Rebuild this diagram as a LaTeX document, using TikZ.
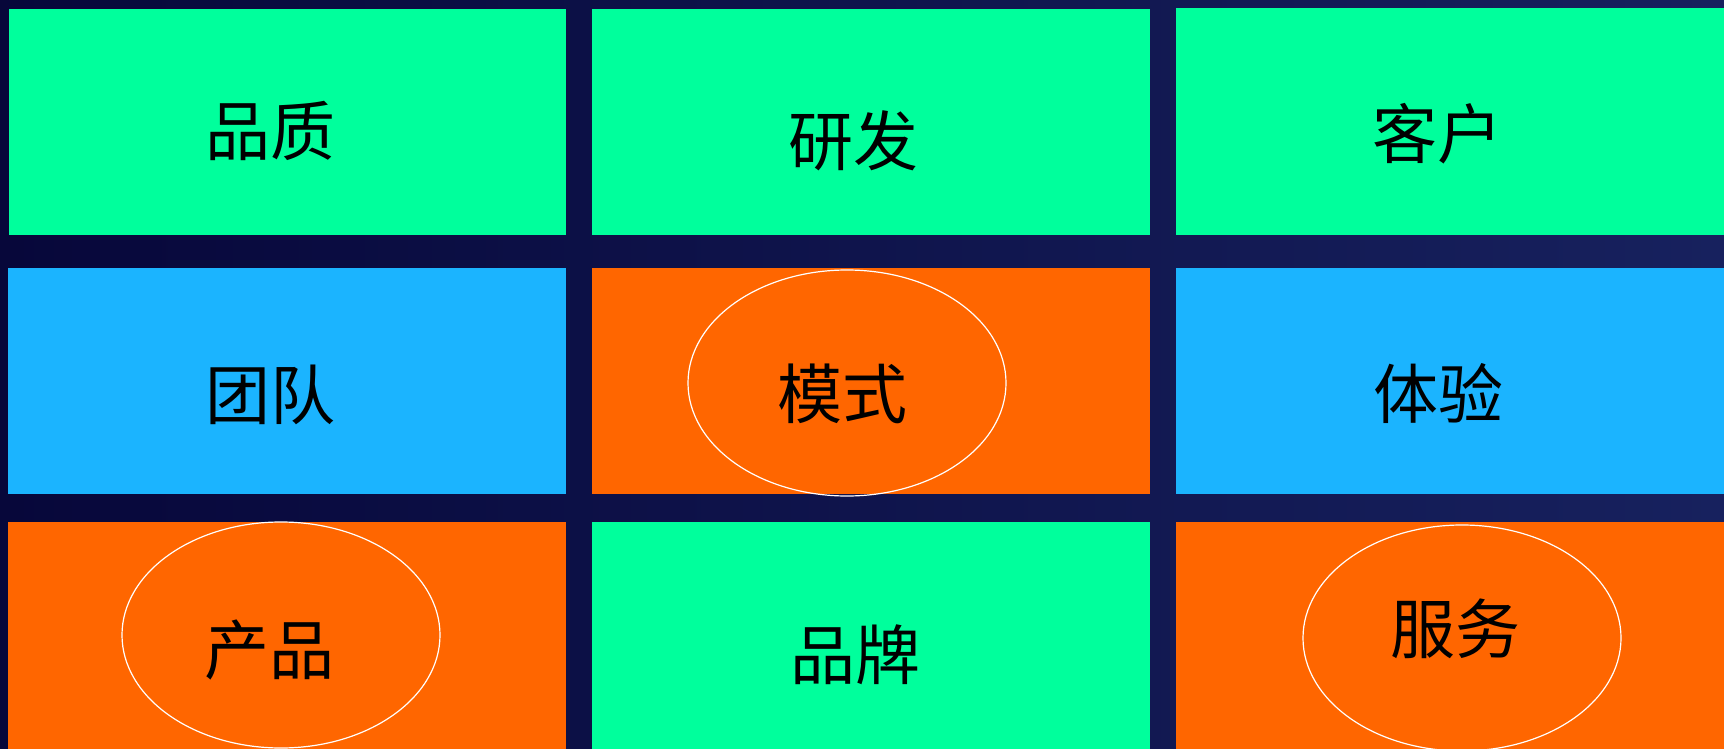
\documentclass[tikz,border=0pt]{standalone}
\usepackage{fontspec}
\newfontfamily\cjk{Noto Sans CJK SC}
\usetikzlibrary{shapes.geometric}
\definecolor{bgL}{HTML}{07073A}
\definecolor{bgR}{HTML}{17215E}
\definecolor{cgreen}{HTML}{00FF9C}
\definecolor{cblue}{HTML}{1BB4FF}
\definecolor{corange}{HTML}{FF6600}
\begin{document}
\begin{tikzpicture}[x=1pt,y=-1pt,
  cell/.style={draw=none,inner sep=0pt,outer sep=0pt,anchor=north west},
  lbl/.style={inner sep=0pt,font=\cjk\fontsize{65}{78}\selectfont,text=black},
  ring/.style={ellipse,draw=white,line width=1.2pt,inner sep=0pt,minimum width=318pt,minimum height=226pt}]
\useasboundingbox (0,0) rectangle (1724,749);
\fill[left color=bgL,right color=bgR] (0,0) rectangle (1724,749);
% row 1
\node[cell,fill=cgreen,minimum width=557pt,minimum height=226pt] (r1c1) at (9,9) {};
\node[cell,fill=cgreen,minimum width=558pt,minimum height=226pt] (r1c2) at (592,9) {};
\node[cell,fill=cgreen,minimum width=548pt,minimum height=227pt] (r1c3) at (1176,8) {};
% row 2
\node[cell,fill=cblue,minimum width=558pt,minimum height=226pt] (r2c1) at (8,268) {};
\node[cell,fill=corange,minimum width=558pt,minimum height=226pt] (r2c2) at (592,268) {};
\node[cell,fill=cblue,minimum width=548pt,minimum height=226pt] (r2c3) at (1176,268) {};
% row 3
\node[cell,fill=corange,minimum width=558pt,minimum height=227pt] (r3c1) at (8,522) {};
\node[cell,fill=cgreen,minimum width=558pt,minimum height=227pt] (r3c2) at (592,522) {};
\node[cell,fill=corange,minimum width=548pt,minimum height=227pt] (r3c3) at (1176,522) {};
% ellipses
\node[ring] (e1) at (847,383) {};
\node[ring] (e2) at (281,635) {};
\node[ring] (e3) at (1462,638) {};
% labels
\node[lbl] (t1) at (270,131) {品质};
\node[lbl] (t2) at (853,141) {研发};
\node[lbl] (t3) at (1437,134) {客户};
\node[lbl] (t4) at (270,395) {团队};
\node[lbl] (t5) at (842,394) {模式};
\node[lbl] (t6) at (1438,394) {体验};
\node[lbl] (t7) at (269,650) {产品};
\node[lbl] (t8) at (855,655) {品牌};
\node[lbl] (t9) at (1455,629) {服务};
\end{tikzpicture}
\end{document}
